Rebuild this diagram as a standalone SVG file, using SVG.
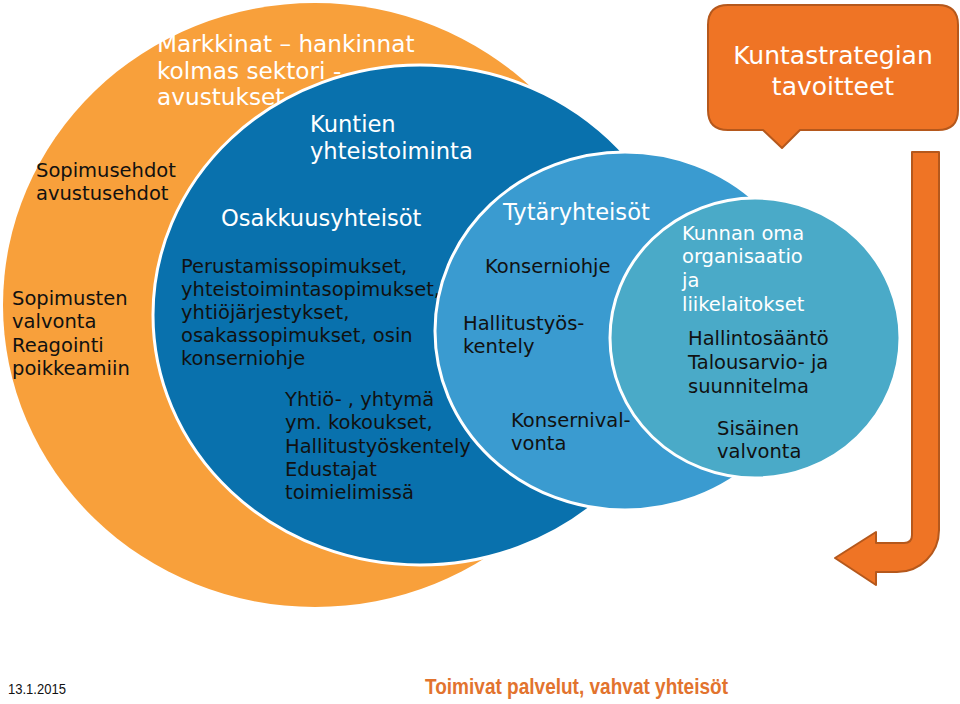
<svg xmlns="http://www.w3.org/2000/svg" width="960" height="704" viewBox="0 0 960 704">
<style>
text{font-family:"DejaVu Sans","Verdana",sans-serif;}
.w{fill:#ffffff;}
.k{fill:#111111;}
.h{font-size:22.6px;}
.b{font-size:19.5px;}
.ring{stroke:#ffffff;stroke-width:3;}
.orangeShape{fill:#EF7425;stroke:#B5581C;stroke-width:2;stroke-linejoin:round;}
</style>
<rect width="960" height="704" fill="#ffffff"/>
<g id="markkinat">
<ellipse cx="315" cy="305" rx="312" ry="302" fill="#F8A03B"/>
<text class="w" font-size="23.2" x="157" y="52">Markkinat – hankinnat</text>
<text class="w" font-size="23.2" x="157" y="79">kolmas sektori -</text>
<text class="w" font-size="23.2" x="157" y="105">avustukset</text>
<text class="k b" x="36" y="177">Sopimusehdot</text>
<text class="k b" x="36" y="200">avustusehdot</text>
<text class="k b" x="12" y="305">Sopimusten</text>
<text class="k b" x="12" y="328">valvonta</text>
<text class="k b" x="12" y="352">Reagointi</text>
<text class="k b" x="12" y="375">poikkeamiin</text>
</g>
<g id="kuntien-yhteistoiminta">
<ellipse class="ring" cx="420" cy="315" rx="267" ry="250" fill="#0971AD"/>
<text class="w h" x="310" y="132">Kuntien</text>
<text class="w h" x="310" y="159">yhteistoiminta</text>
<text class="w h" x="221" y="226">Osakkuusyhteisöt</text>
<text class="k b" x="181" y="273">Perustamissopimukset,</text>
<text class="k b" x="181" y="296">yhteistoimintasopimukset,</text>
<text class="k b" x="181" y="319">yhtiöjärjestykset,</text>
<text class="k b" x="181" y="342">osakassopimukset, osin</text>
<text class="k b" x="181" y="365">konserniohje</text>
<text class="k b" x="285" y="406">Yhtiö- , yhtymä</text>
<text class="k b" x="285" y="429">ym. kokoukset,</text>
<text class="k b" x="285" y="453">Hallitustyöskentely</text>
<text class="k b" x="285" y="476">Edustajat</text>
<text class="k b" x="285" y="499">toimielimissä</text>
</g>
<g id="tytaryhteisot">
<ellipse class="ring" cx="625" cy="331" rx="190" ry="179" fill="#3A9BD0"/>
<text class="w h" x="503" y="220">Tytäryhteisöt</text>
<text class="k b" x="485" y="273">Konserniohje</text>
<text class="k b" x="463" y="330">Hallitustyös-</text>
<text class="k b" x="463" y="353">kentely</text>
<text class="k b" x="511" y="427">Konsernival-</text>
<text class="k b" x="511" y="450">vonta</text>
</g>
<g id="kunnan-oma-organisaatio">
<ellipse class="ring" cx="755" cy="338" rx="145" ry="140" fill="#4AAAC8"/>
<text class="w b" x="682" y="240">Kunnan oma</text>
<text class="w b" x="682" y="263">organisaatio</text>
<text class="w b" x="682" y="287">ja</text>
<text class="w b" x="682" y="311">liikelaitokset</text>
<text class="k b" x="688" y="345">Hallintosääntö</text>
<text class="k b" x="688" y="369">Talousarvio- ja</text>
<text class="k b" x="688" y="393">suunnitelma</text>
<text class="k b" x="717" y="435">Sisäinen</text>
<text class="k b" x="717" y="458">valvonta</text>
</g>
<g id="kuntastrategian-tavoitteet">
<path class="orangeShape" d="M728,5 H938 Q958,5 958,25 V110 Q958,130 938,130 H800 L782,148 L763,130 H728 Q708,130 708,110 V25 Q708,5 728,5 Z"/>
<text class="w" font-size="25" x="833" y="64" text-anchor="middle">Kuntastrategian</text>
<text class="w" font-size="25" x="833" y="95" text-anchor="middle">tavoitteet</text>
</g>
<g id="connectors">
<path class="orangeShape" d="M912,152 H939 V530 A42,42 0 0 1 897,572 H876 V585 L835,558 L876,532 V543 H904 Q912,543 912,535 Z"/>
</g>
<g id="footer">
<text x="8" y="694" font-size="15" fill="#111111" textLength="58" lengthAdjust="spacingAndGlyphs" style="font-family:'Liberation Sans',Arial,sans-serif">13.1.2015</text>
<text x="425" y="694" font-size="22" font-weight="bold" fill="#E2732E" textLength="303" lengthAdjust="spacingAndGlyphs" style="font-family:'Liberation Sans',Arial,sans-serif">Toimivat palvelut, vahvat yhteisöt</text>
</g>
</svg>
